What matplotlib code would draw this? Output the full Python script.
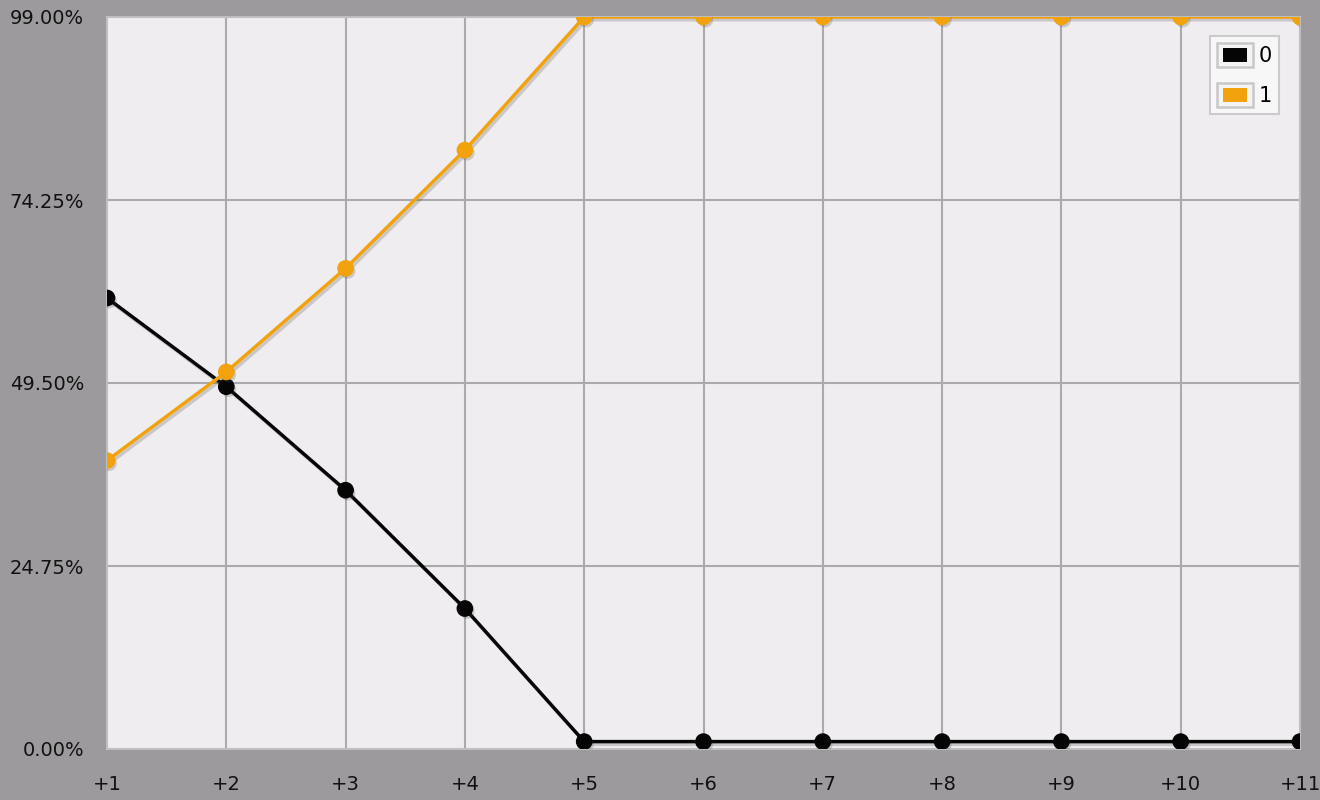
import matplotlib
matplotlib.use("Agg")
import matplotlib.pyplot as plt
import matplotlib.patches as mpatches
import matplotlib.patheffects as pe
from matplotlib.legend_handler import HandlerBase
from matplotlib.ticker import FuncFormatter

# data
steps = ["+1", "+2", "+3", "+4", "+5", "+6", "+7", "+8", "+9", "+10", "+11"]
series_0 = [61, 49, 35, 19, 1, 1, 1, 1, 1, 1, 1]
series_1 = [39, 51, 65, 81, 99, 99, 99, 99, 99, 99, 99]
y_ticks = [0, 24.75, 49.5, 74.25, 99]

bg = "#9c9a9c"
plot_bg = "#efedf0"
grid_col = "#abaaab"
orange = "#f2a20c"
black = "#050505"


class BoxHandler(HandlerBase):
    # framed swatch like the original legend
    def create_artists(self, legend, orig_handle, xd, yd, w, h, fontsize, trans):
        x0, y0 = -xd, -yd
        outer = mpatches.Rectangle((x0, y0), w, h, facecolor="#f4f3f5",
                                   edgecolor="#c8c8c8", lw=1.8, transform=trans)
        iw, ih = w * 0.667, h * 0.58
        inner = mpatches.Rectangle((x0 + (w - iw) / 2, y0 + (h - ih) / 2), iw, ih,
                                   facecolor=orig_handle.get_facecolor(),
                                   edgecolor="none", transform=trans)
        return [outer, inner]


fig = plt.figure(figsize=(13.2, 8), dpi=100, facecolor=bg)
ax = fig.add_axes([107 / 1320, 51 / 800, 1193 / 1320, 732 / 800])
ax.set_facecolor(plot_bg)

x = list(range(1, len(steps) + 1))
line_fx = [pe.SimpleLineShadow(offset=(1.5, -2), shadow_color="#444444", alpha=0.22), pe.Normal()]
mark_fx = [pe.SimplePatchShadow(offset=(1.5, -2), shadow_rgbFace="#444444", alpha=0.22), pe.Normal()]
for vals, col, z in [(series_0, black, 3), (series_1, orange, 5)]:
    ax.plot(x, vals, color=col, lw=2.5, path_effects=line_fx, zorder=z)
    ax.plot(x, vals, ls="none", marker="o", ms=11, color=col, path_effects=mark_fx, zorder=z + 0.5)

ax.set_xlim(1, 11)
ax.set_ylim(0, 99)
ax.set_xticks(x)
ax.set_xticklabels(steps)
ax.set_yticks(y_ticks)
ax.yaxis.set_major_formatter(FuncFormatter(lambda v, p: f"{v:.2f}%"))
ax.tick_params(length=0, labelsize=14, labelcolor="#111111")
ax.tick_params(axis="x", pad=19)
ax.tick_params(axis="y", pad=16.5)
ax.grid(True, color=grid_col, lw=1.5)
ax.set_axisbelow(True)
for s in ax.spines.values():
    s.set_color("#c6c5c7")
    s.set_linewidth(1.2)

handles = [mpatches.Patch(facecolor=black), mpatches.Patch(facecolor=orange)]
leg = ax.legend(handles, ["0", "1"], loc="upper right", bbox_to_anchor=(0.9824, 0.974),
                handler_map={mpatches.Patch: BoxHandler()}, fontsize=15,
                handlelength=1.73, handleheight=1.4, handletextpad=0.3,
                labelspacing=0.8, borderpad=0.32, borderaxespad=0,
                frameon=True, fancybox=False, framealpha=1)
leg.get_frame().set_facecolor("#f7f7f8")
leg.get_frame().set_edgecolor("#cbcbcb")
leg.get_frame().set_linewidth(1.5)
leg.set_zorder(10)

fig.savefig("out.png", dpi=100, facecolor=bg)
